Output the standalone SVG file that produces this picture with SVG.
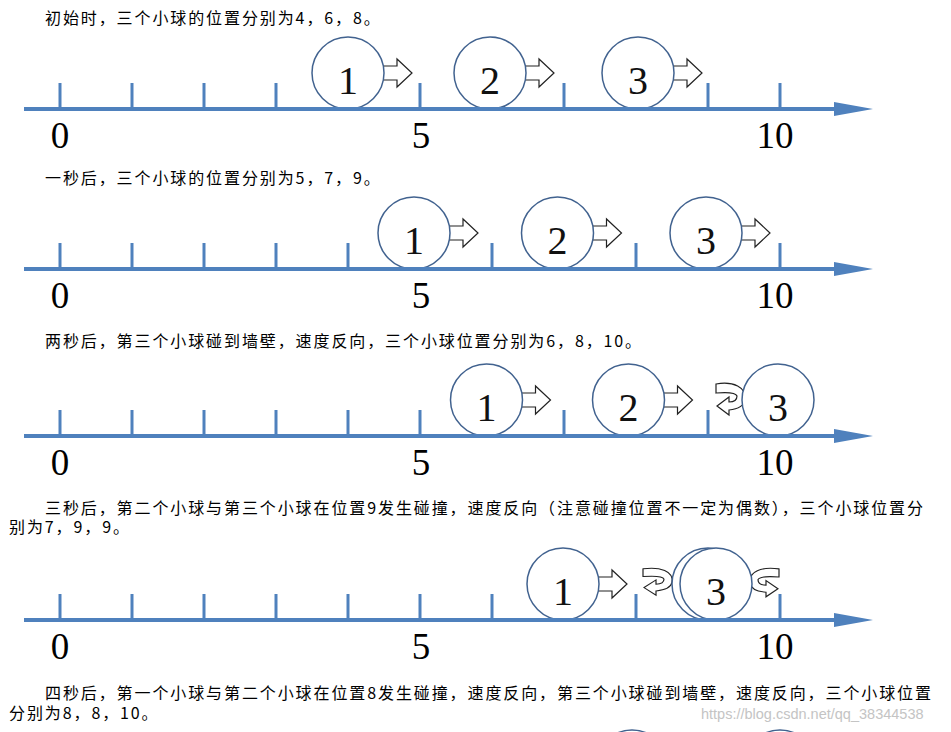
<svg xmlns="http://www.w3.org/2000/svg" xmlns:xlink="http://www.w3.org/1999/xlink" width="951" height="732" viewBox="0 0 951 732">
<style>
.bg{fill:#fff}
.cn{font-family:"Noto Sans CJK SC","Liberation Sans",sans-serif;font-size:16px;letter-spacing:1.9px;fill:#000}
.wm{font-family:"Liberation Sans",Arial,sans-serif;font-size:14.5px;fill:#c4c4c4}
.axis{stroke:#4F81BD;stroke-width:4;fill:none}
.tick{stroke:#4F81BD;stroke-width:3}
.head{fill:#4F81BD}
.ball{fill:#fff;stroke:#41628F;stroke-width:1.5}
.num{font-family:"Liberation Serif","Times New Roman",serif;font-size:40px;text-anchor:middle;fill:#111}
.lab{font-family:"Liberation Serif","Times New Roman",serif;font-size:37px;text-anchor:middle;fill:#000}
.arr{fill:#fff;stroke:#222;stroke-width:1.2;stroke-linejoin:miter}
</style>
<defs>
<path id="rarrow" class="arr" d="M30 -7 L49 -7 L49 -14 L64 0 L49 14 L49 7 L30 7 Z"/>
<path id="uturn" class="arr" d="M0 1 C17 -2 31 4 29 17 C28 23 22 26 13 27 L13 32 L1 23 L13 14 L13 19 C18 19 21 17 21 13 C20 10 12 9 0 10 Z"/>
<g id="ticks">
<line class="tick" x1="60" y1="-26" x2="60" y2="0"/>
<line class="tick" x1="132" y1="-26" x2="132" y2="0"/>
<line class="tick" x1="204" y1="-26" x2="204" y2="0"/>
<line class="tick" x1="276" y1="-26" x2="276" y2="0"/>
<line class="tick" x1="348" y1="-26" x2="348" y2="0"/>
<line class="tick" x1="420" y1="-26" x2="420" y2="0"/>
<line class="tick" x1="492" y1="-26" x2="492" y2="0"/>
<line class="tick" x1="564" y1="-26" x2="564" y2="0"/>
<line class="tick" x1="636" y1="-26" x2="636" y2="0"/>
<line class="tick" x1="708" y1="-26" x2="708" y2="0"/>
<line class="tick" x1="780" y1="-26" x2="780" y2="0"/>
</g>
<g id="axisline">
<line class="axis" x1="24" y1="0" x2="840" y2="0"/>
<path class="head" d="M834 -7 L873 0 L834 7 Z"/>
<text class="lab" x="60" y="39">0</text>
<text class="lab" x="421" y="39">5</text>
<text class="lab" x="775" y="39">10</text>
</g>
</defs>
<rect class="bg" x="0" y="0" width="951" height="732"/>

<!-- Row 1 -->
<text class="cn" x="45" y="24">初始时，三个小球的位置分别为4，6，8。</text>
<g id="row1" transform="translate(0,109)">
<use href="#ticks"/>
<g id="arrows1">
<use href="#rarrow" x="348" y="-36"/>
<use href="#rarrow" x="490" y="-36"/>
<use href="#rarrow" x="638" y="-36"/>
</g>
<g id="r1b1"><circle class="ball" cx="348" cy="-36" r="36"/><text class="num" x="348" y="-15">1</text></g>
<g id="r1b2"><circle class="ball" cx="490" cy="-36" r="36"/><text class="num" x="490" y="-15">2</text></g>
<g id="r1b3"><circle class="ball" cx="638" cy="-36" r="36"/><text class="num" x="638" y="-15">3</text></g>
<use href="#axisline"/>
</g>

<!-- Row 2 -->
<text class="cn" x="45" y="184">一秒后，三个小球的位置分别为5，7，9。</text>
<g id="row2" transform="translate(0,269)">
<use href="#ticks"/>
<g id="arrows2">
<use href="#rarrow" x="414" y="-36"/>
<use href="#rarrow" x="557.5" y="-36"/>
<use href="#rarrow" x="706" y="-36"/>
</g>
<g id="r2b1"><circle class="ball" cx="414" cy="-36" r="36"/><text class="num" x="414" y="-15">1</text></g>
<g id="r2b2"><circle class="ball" cx="557.5" cy="-36" r="36"/><text class="num" x="557.5" y="-15">2</text></g>
<g id="r2b3"><circle class="ball" cx="706" cy="-36" r="36"/><text class="num" x="706" y="-15">3</text></g>
<use href="#axisline"/>
</g>

<!-- Row 3 -->
<text class="cn" x="45" y="347">两秒后，第三个小球碰到墙壁，速度反向，三个小球位置分别为6，8，10。</text>
<g id="row3" transform="translate(0,436)">
<use href="#ticks"/>
<g id="arrows3">
<use href="#rarrow" x="486.5" y="-36"/>
<use href="#rarrow" x="628.5" y="-36"/>
<use href="#uturn" x="716" y="-53"/>
</g>
<g id="r3b1"><circle class="ball" cx="486.5" cy="-36" r="36"/><text class="num" x="486.5" y="-15">1</text></g>
<g id="r3b2"><circle class="ball" cx="628.5" cy="-36" r="36"/><text class="num" x="628.5" y="-15">2</text></g>
<g id="r3b3"><circle class="ball" cx="778" cy="-36" r="36"/><text class="num" x="778" y="-15">3</text></g>
<use href="#axisline"/>
</g>

<!-- Row 4 -->
<text class="cn" x="45" y="514">三秒后，第二个小球与第三个小球在位置9发生碰撞，速度反向（注意碰撞位置不一定为偶数），三个小球位置分</text>
<text class="cn" x="9" y="533">别为7，9，9。</text>
<g id="row4" transform="translate(0,620)">
<use href="#ticks"/>
<g id="arrows4">
<use href="#rarrow" x="563" y="-36"/>
<g transform="translate(643,-52) scale(1,0.85)"><use href="#uturn"/></g>
<g transform="translate(779,-52) scale(-1,0.9)"><use href="#uturn"/></g>
</g>
<g id="r4b2"><circle class="ball" cx="708" cy="-36" r="36"/></g>
<g id="r4b1"><circle class="ball" cx="563" cy="-36" r="36"/><text class="num" x="563" y="-15">1</text></g>
<g id="r4b3"><circle class="ball" cx="716" cy="-36" r="36"/><text class="num" x="716" y="-15">3</text></g>
<use href="#axisline"/>
</g>

<!-- Row 5 (partially visible) -->
<text class="cn" x="45" y="699">四秒后，第一个小球与第二个小球在位置8发生碰撞，速度反向，第三个小球碰到墙壁，速度反向，三个小球位置</text>
<text class="cn" x="9" y="719">分别为8，8，10。</text>
<g id="row5">
<circle class="ball" cx="632" cy="766" r="36"/>
<circle class="ball" cx="780" cy="766" r="36"/>
</g>
<text class="wm" x="701" y="719">https://blog.csdn.net/qq_38344538</text>
</svg>
